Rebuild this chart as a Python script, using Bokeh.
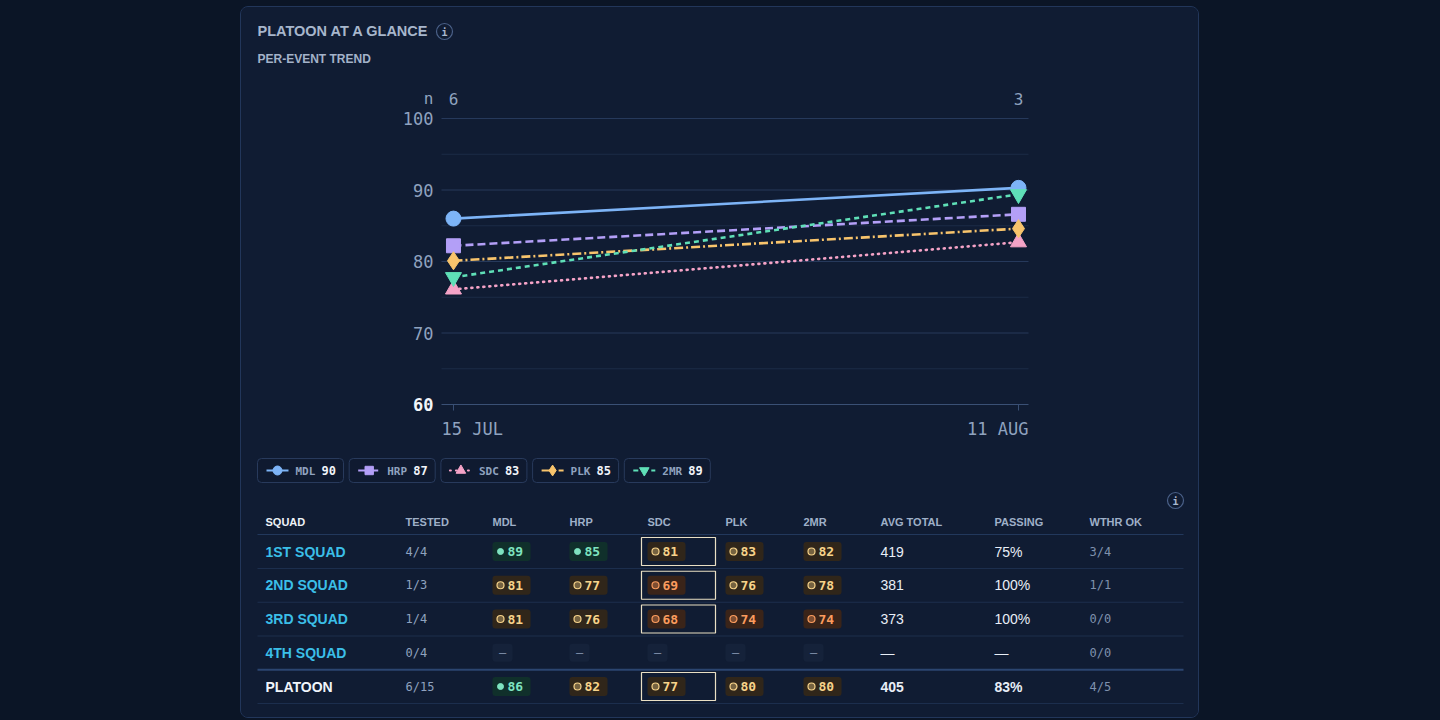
from bokeh.plotting import figure
from bokeh.models import Range1d, ColumnDataSource, GlobalInlineStyleSheet
from bokeh.layouts import column
from bokeh.embed import file_html
from bokeh.resources import INLINE

# per-event trend (platoon averages)
events = ["15 JUL", "11 AUG"]
event_x = [0, 1]
n_tested = [6, 3]
mdl = [86.0, 90.3]
hrp = [82.2, 86.6]
sdc = [76.1, 82.7]
plk = [80.1, 84.6]
mr2 = [77.8, 89.4]

y_major = [100, 90, 80, 70, 60]
y_minor = [95, 85, 75, 65]

series_names = ["MDL", "HRP", "SDC", "PLK", "2MR"]
latest = [90, 87, 83, 85, 89]

# squad table
headers = ["SQUAD", "TESTED", "MDL", "HRP", "SDC", "PLK", "2MR", "AVG TOTAL", "PASSING", "WTHR OK"]
squads = ["1ST SQUAD", "2ND SQUAD", "3RD SQUAD", "4TH SQUAD", "PLATOON"]
tested = ["4/4", "1/3", "1/4", "0/4", "6/15"]
mdl_s = [89, 81, 81, None, 86]
hrp_s = [85, 77, 76, None, 82]
sdc_s = [81, 69, 68, None, 77]
plk_s = [83, 76, 74, None, 80]
mr2_s = [82, 78, 74, None, 80]
avg_total = [419, 381, 373, None, 405]
passing = ["75%", "100%", "100%", None, "83%"]
wthr_ok = ["3/4", "1/1", "0/0", "0/0", "4/5"]

PAGE = "#0b1526"
CARD = "#101c33"
BORDER = "#22365a"
MUTED = "#8fa2bf"
SANS = "Liberation Sans"
MONO = "DejaVu Sans Mono"

# colour, dash, marker, marker size, line cap
STYLES = [
    ("#7db4f7", "solid", "circle", 15, "butt"),
    ("#b39ff7", "8 4", "square", 14, "butt"),
    ("#f5a3c7", "1 5", "triangle", 16, "round"),
    ("#f8c46c", "9 3 2 3", "diamond", 18, "butt"),
    ("#5fdfb7", "5 4", "inverted_triangle", 16, "butt"),
]

# card area in window pixels
X_LEFT, X_RIGHT, Y_TOP, Y_BOTTOM = 241, 1198, 7, 717
# chart frame in window pixels and its data limits
CH_L, CH_R, CH_T, CH_B = 441, 1028, 118, 404
X_LIM = (-0.0212, 1.0177)
Y_LIM = (60, 100)

p_card = figure(width=X_RIGHT - X_LEFT, height=Y_BOTTOM - Y_TOP,
                x_range=Range1d(X_LEFT, X_RIGHT), y_range=Range1d(Y_BOTTOM, Y_TOP),
                x_axis_type=None, y_axis_type=None, toolbar_location=None,
                output_backend="svg", min_border=0)
p_card.background_fill_color = CARD
p_card.border_fill_color = CARD
p_card.outline_line_color = None

# chart scale: maps trend data onto the chart frame
kx = (CH_R - CH_L) / (X_LIM[1] - X_LIM[0])
ky = (CH_B - CH_T) / (Y_LIM[1] - Y_LIM[0])
p_card.extra_x_ranges = {"t": Range1d(X_LIM[0] - (CH_L - X_LEFT) / kx, X_LIM[1] + (X_RIGHT - CH_R) / kx)}
p_card.extra_y_ranges = {"t": Range1d(Y_LIM[0] - (Y_BOTTOM - CH_B) / ky, Y_LIM[1] + (CH_T - Y_TOP) / ky)}
T = dict(x_range_name="t", y_range_name="t")


def texts(p, xs, ys, labels, font=SANS, size="12px", color=MUTED, style="normal", align="left", **kw):
    src = ColumnDataSource(dict(x=xs, y=ys, t=labels,
                                c=color if isinstance(color, list) else [color] * len(xs),
                                s=style if isinstance(style, list) else [style] * len(xs)))
    p.text("x", "y", "t", source=src, text_font={"value": font}, text_font_size=size,
           text_color="c", text_font_style="s", text_align=align, text_baseline="middle", **kw)


def info_icon(p, x, y):
    p.scatter([x], [y], marker="circle", size=16, fill_color=None, line_color="#4a6088", line_width=1.2)
    texts(p, [x], [y + 0.5], ["i"], font=MONO, size="10px", color="#a9b8cf", style="bold", align="center")


# header
texts(p_card, [257], [30], ["PLATOON AT A GLANCE"], size="14.5px", color="#a7b6cc", style="bold")
info_icon(p_card, 444, 31)
texts(p_card, [257], [58], ["PER-EVENT TREND"], size="12px", color="#a3b2c9", style="bold")

# trend chart: grid, baseline, ticks, labels
p_card.segment(x0=[X_LIM[0]] * len(y_minor), x1=[X_LIM[1]] * len(y_minor), y0=y_minor, y1=y_minor,
               line_color="#1b2b47", line_width=1, **T)
p_card.segment(x0=[X_LIM[0]] * len(y_major), x1=[X_LIM[1]] * len(y_major), y0=y_major, y1=y_major,
               line_color=["#26395b"] * (len(y_major) - 1) + ["#3a5075"], line_width=1, **T)
p_card.segment(x0=event_x, x1=event_x, y0=[Y_LIM[0]] * 2, y1=[Y_LIM[0] - 6 / ky] * 2,
               line_color="#3a5075", line_width=1, **T)

texts(p_card, [X_LIM[0]] * len(y_major), y_major, [str(v) for v in y_major], font=MONO, size="17px",
      color=[MUTED] * (len(y_major) - 1) + ["#f2f5fa"],
      style=["normal"] * (len(y_major) - 1) + ["bold"], align="right", x_offset=-8, **T)
texts(p_card, [X_LIM[0]], [Y_LIM[1]], ["n"], font=MONO, size="16px", align="right",
      x_offset=-8, y_offset=-20, **T)
texts(p_card, event_x, [Y_LIM[1]] * 2, [str(n) for n in n_tested], font=MONO, size="16px",
      align="center", y_offset=-20, **T)
texts(p_card, [X_LIM[0]], [Y_LIM[0]], [events[0]], font=MONO, size="17px", align="left", y_offset=24, **T)
texts(p_card, [X_LIM[1]], [Y_LIM[0]], [events[1]], font=MONO, size="17px", align="right", y_offset=24, **T)

for vals, (color, dash, marker, size, cap) in zip([mdl, hrp, sdc, plk, mr2], STYLES):
    p_card.line(event_x, vals, line_color=color, line_dash=dash, line_width=2.6, line_cap=cap, **T)
    p_card.scatter(event_x, vals, marker=marker, size=size, fill_color=color, line_color=color, **T)

# legend chips
lefts = [257 + i * 91.7 for i in range(len(series_names))]
p_card.quad(left=lefts, right=[l + 86 for l in lefts], top=[458] * 5, bottom=[482] * 5,
            fill_color="#0f1a30", line_color="#283a5c", line_width=1, border_radius=4)
for l, (color, dash, marker, size, cap) in zip(lefts, STYLES):
    p_card.line([l + 9, l + 31], [470, 470], line_color=color, line_dash=dash, line_width=2, line_cap=cap)
    p_card.scatter([l + 20], [470], marker=marker, size=size * 0.6, fill_color=color, line_color=color)
texts(p_card, [l + 38 for l in lefts], [470.5] * 5, series_names, font=MONO, size="11px", color=MUTED,
      style="bold")
texts(p_card, [l + 64 for l in lefts], [470] * 5, [str(v) for v in latest], font=MONO, size="12px",
      color="#f2f5fa", style="bold")

# squad table
info_icon(p_card, 1175, 500)

COL_X = [265, 405, 492, 569, 647, 725, 803, 880, 994, 1089]
ROW_Y = [551 + i * 33.75 for i in range(len(squads))]

hdr_colors = ["#eef2f8"] + ["#9fb0c8"] * (len(headers) - 1)
texts(p_card, COL_X, [521] * len(headers), headers, size="11px", color=hdr_colors, style="bold")

line_y = [534] + [y + 17 for y in ROW_Y]
line_c = ["#22385c", "#1c2e4d", "#1c2e4d", "#1c2e4d", "#2b4570", "#1c2e4d"]
line_w = [1, 1, 1, 1, 2, 1]
for y, c, w in zip(line_y, line_c, line_w):
    p_card.line([257, 1183], [y, y], line_color=c, line_width=w)

last = len(squads) - 1
texts(p_card, [COL_X[0]] * len(squads), ROW_Y, squads, size="14px",
      color=["#3bbfe8"] * last + ["#f1f5fb"], style="bold")
texts(p_card, [COL_X[1]] * len(squads), ROW_Y, tested, font=MONO, size="12px", color=MUTED)


def tone(v):
    if v >= 85:
        return "#10302b", "#7ee3c0"
    if v >= 75:
        return "#30261a", "#f7d38a"
    return "#3a2419", "#fb9c5e"


for ci, col in zip(range(2, 7), [mdl_s, hrp_s, sdc_s, plk_s, mr2_s]):
    cx = COL_X[ci]
    for y, v in zip(ROW_Y, col):
        if v is None:
            p_card.quad(left=[cx], right=[cx + 20], top=[y - 9], bottom=[y + 9],
                        fill_color="#15223a", line_color=None, border_radius=3)
            texts(p_card, [cx + 10], [y], ["–"], font=MONO, size="12px", color="#7f8faa", align="center")
            continue
        bg, fg = tone(v)
        p_card.quad(left=[cx], right=[cx + 38], top=[y - 9.5], bottom=[y + 9.5],
                    fill_color=bg, line_color=None, border_radius=3)
        if v >= 85:
            p_card.scatter([cx + 8], [y], marker="circle", size=6, fill_color=fg, line_color=fg)
        else:
            p_card.scatter([cx + 8], [y], marker="circle", size=7, fill_color=fg, fill_alpha=0.35,
                           line_color=fg, line_width=1.2)
        texts(p_card, [cx + 15], [y], [str(v)], font=MONO, size="13px", color=fg, style="bold")
        if ci == 4:
            p_card.quad(left=[cx - 6], right=[cx + 68], top=[y - 14], bottom=[y + 14],
                        fill_color=None, line_color="#e9dfc4", line_width=1.2)

bold_last = ["normal"] * last + ["bold"]
texts(p_card, [COL_X[7]] * len(squads), ROW_Y,
      ["—" if v is None else str(v) for v in avg_total], size="14px", color="#e8eef7", style=bold_last)
texts(p_card, [COL_X[8]] * len(squads), ROW_Y,
      ["—" if v is None else v for v in passing], size="14px", color="#e8eef7", style=bold_last)
texts(p_card, [COL_X[9]] * len(squads), ROW_Y, wthr_ok, font=MONO, size="12px", color="#7f91ad")

p = column(p_card, margin=(6, 0, 0, 240),
           styles={"border": "1px solid " + BORDER, "border-radius": "8px",
                   "background-color": CARD, "overflow": "hidden"})
p.stylesheets = [GlobalInlineStyleSheet(css="html, body { margin: 0 !important; padding: 0; background: %s; }" % PAGE)]

open("out.html", "w").write(file_html(p, INLINE))
